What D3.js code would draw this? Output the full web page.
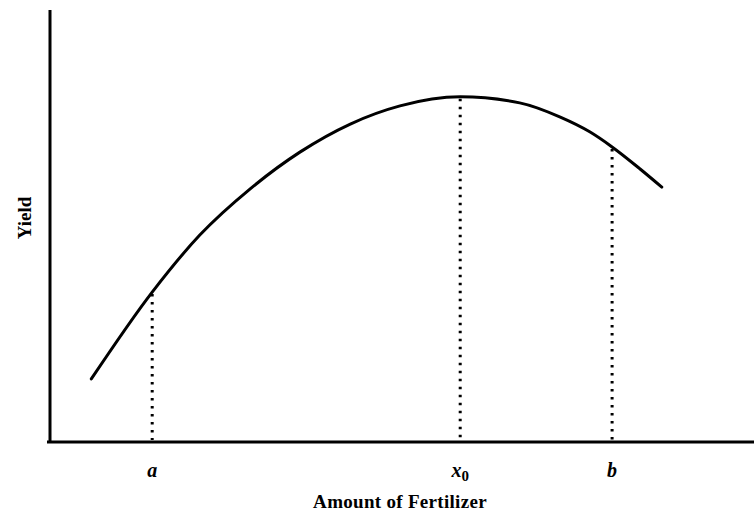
<!DOCTYPE html>
<html><head><meta charset="utf-8">
<script src="https://cdn.jsdelivr.net/npm/d3@7"></script>
<style>
body{margin:0;background:#fff;}svg{display:block;}
text{font-family:"Liberation Serif","Times New Roman",Times,"DejaVu Serif",serif;font-weight:bold;}
</style>
</head><body>
<svg id="chart" width="754" height="519"></svg>
<script>
// Data (abstract units: amount of fertilizer, yield)
const curveX = [5.9, 14.6, 21.4, 28.6, 35.7, 42.9, 50.0, 58.6, 67.1, 72.9, 77.1, 80.3, 84.3, 87.4];
const curveY = [14.6, 34.7, 47.9, 58.6, 67.1, 73.6, 77.8, 79.9, 78.5, 75.2, 71.8, 68.3, 63.2, 59.0];
const markerNames = ["a", "x0", "b"];
const markerX = [14.6, 58.6, 80.3];
const markerY = [34.7, 79.9, 68.3];
const xTitle = "Amount of Fertilizer";
const yTitle = "Yield";

const svg = d3.select("#chart");
const x = d3.scaleLinear().domain([0, 100]).range([50, 750]);
const y = d3.scaleLinear().domain([0, 100]).range([442, 10]);

// axes
svg.append("line").attr("x1", x(0)).attr("x2", x(0)).attr("y1", y(0) + 1).attr("y2", y(100))
  .attr("stroke", "#000").attr("stroke-width", 3);
svg.append("line").attr("x1", x(0) - 3).attr("x2", 754).attr("y1", y(0)).attr("y2", y(0))
  .attr("stroke", "#000").attr("stroke-width", 3);

// dotted drops
markerX.forEach((mx, i) => {
  svg.append("line").attr("x1", x(mx)).attr("x2", x(mx))
    .attr("y1", y(markerY[i]) + 2).attr("y2", y(0) - 2)
    .attr("stroke", "#000").attr("stroke-width", 3)
    .attr("stroke-dasharray", "2.5,5.5");
});

// curve
const pts = curveX.map((v, i) => [v, curveY[i]]);
svg.append("path").datum(pts)
  .attr("d", d3.line().x(d => x(d[0])).y(d => y(d[1])).curve(d3.curveMonotoneX))
  .attr("fill", "none").attr("stroke", "#000").attr("stroke-width", 3)
  .attr("stroke-linecap", "round");

// marker labels
markerX.forEach((mx, i) => {
  const t = svg.append("text").attr("x", x(mx)).attr("y", 477)
    .attr("text-anchor", "middle")
    .attr("font-style", "italic").attr("font-size", 20);
  const nm = markerNames[i];
  if (nm === "x0") {
    t.append("tspan").text("x");
    t.append("tspan").text("0").attr("font-style", "normal").attr("font-size", 15).attr("dy", 4);
  } else {
    t.text(nm);
  }
});

// axis titles
svg.append("text").attr("x", 400).attr("y", 508).attr("text-anchor", "middle")
  .attr("font-size", 19).attr("letter-spacing", 0.3).text(xTitle);
svg.append("text").attr("transform", "translate(31,218) rotate(-90)").attr("text-anchor", "middle")
  .attr("font-size", 19).text(yTitle);
</script>
</body></html>
